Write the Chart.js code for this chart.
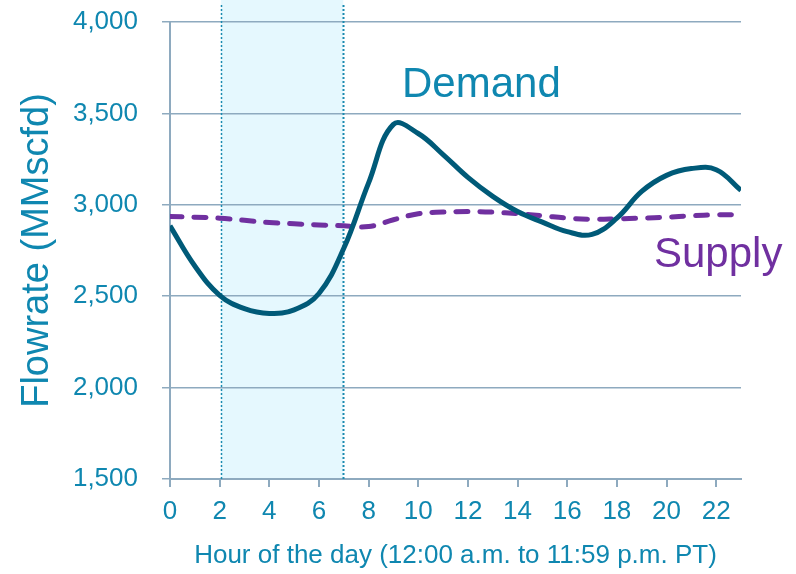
<!DOCTYPE html>
<html>
<head>
<meta charset="utf-8">
<script src="https://cdn.jsdelivr.net/npm/chart.js@4"></script>
<style>
  body { margin: 0; background: #fff; }
</style>
</head>
<body>
<canvas id="myChart" width="796" height="574"></canvas>
<script>
  // hourly values (MMscfd)
  const hours = [0,1,2,3,4,5,6,7,8,9,10,11,12,13,14,15,16,17,18,19,20,21,22,23];
  const demand = [2885,2665,2505,2432,2406,2425,2515,2762,3120,3440,3390,3275,3150,3046,2963,2905,2853,2838,2927,3073,3161,3198,3192,3079];
  const supply = [2936,2932,2927,2915,2903,2896,2890,2885,2881,2918,2951,2960,2963,2960,2951,2940,2927,2921,2923,2927,2932,2940,2945,2945];
  const peakWindow = [2.05, 6.98];

  const teal = '#0f87b0';
  const gridColor = '#8eaabf';
  const fontFamily = "'Liberation Sans', Arial, sans-serif";

  const toPoints = (ys) => ys.map((y, i) => ({x: hours[i], y: y}));

  const shading = {
    id: 'shading',
    beforeDraw: (chart) => {
      const ctx = chart.ctx;
      const x = chart.scales.x;
      const x1 = x.getPixelForValue(peakWindow[0]);
      const x2 = x.getPixelForValue(peakWindow[1]);
      ctx.save();
      ctx.fillStyle = '#e5f8fe';
      ctx.fillRect(x1, 0, x2 - x1, chart.chartArea.bottom);
      ctx.restore();
    },
    beforeDatasetsDraw: (chart) => {
      const ctx = chart.ctx;
      const x = chart.scales.x;
      ctx.save();
      ctx.strokeStyle = '#1a8ab0';
      ctx.setLineDash([2, 2]);
      peakWindow.forEach((v, i) => {
        const px = Math.round(x.getPixelForValue(v)) + 0.5;
        ctx.lineWidth = i === 0 ? 1.5 : 2;
        ctx.beginPath();
        ctx.moveTo(px, 5);
        ctx.lineTo(px, chart.chartArea.bottom);
        ctx.stroke();
      });
      ctx.restore();
    },
    afterDatasetsDraw: (chart) => {
      const ctx = chart.ctx;
      ctx.save();
      ctx.font = '42px ' + fontFamily;
      ctx.textBaseline = 'alphabetic';
      ctx.fillStyle = teal;
      ctx.fillText('Demand', 402, 97);
      ctx.fillStyle = '#7030a0';
      ctx.fillText('Supply', 654, 267);
      ctx.restore();
    }
  };

  let myChart = new Chart(document.getElementById('myChart'), {
    type: 'line',
    data: {
      datasets: [{
        label: 'Demand',
        data: toPoints(demand),
        borderColor: '#005a78',
        borderWidth: 5,
        pointRadius: 0,
        tension: 0.4,
        fill: false
      }, {
        label: 'Supply',
        data: toPoints(supply),
        borderColor: '#7030a0',
        borderWidth: 5,
        borderDash: [12, 12],
        borderCapStyle: 'round',
        pointRadius: 0,
        tension: 0.4,
        fill: false
      }]
    },
    plugins: [shading],
    options: {
      responsive: false,
      animation: false,
      layout: {
        padding: {top: 22, right: 55, left: 0, bottom: 0}
      },
      plugins: {
        legend: {display: false},
        tooltip: {enabled: false}
      },
      scales: {
        x: {
          type: 'linear',
          min: 0,
          max: 23,
          afterFit: (scale) => {
            scale.height = 95;
            scale.paddingLeft = 0;
            scale.paddingRight = 0;
          },
          grid: {
            drawOnChartArea: false,
            drawTicks: true,
            tickLength: 8,
            color: gridColor,
            lineWidth: 2
          },
          border: {display: true, color: gridColor, width: 2},
          ticks: {
            stepSize: 2,
            includeBounds: false,
            autoSkip: false,
            maxRotation: 0,
            padding: 9,
            color: teal,
            font: {family: fontFamily, size: 26}
          },
          title: {
            display: true,
            text: 'Hour of the day (12:00 a.m. to 11:59 p.m. PT)',
            color: teal,
            font: {family: fontFamily, size: 26},
            padding: {top: 0, bottom: 3}
          }
        },
        y: {
          min: 1500,
          max: 4000,
          afterFit: (scale) => {
            scale.width = 170;
            scale.paddingTop = 0;
            scale.paddingBottom = 0;
          },
          grid: {
            drawTicks: true,
            tickLength: 8,
            color: gridColor,
            lineWidth: 1.5
          },
          border: {display: true, color: gridColor, width: 2},
          ticks: {
            stepSize: 500,
            padding: 24,
            color: teal,
            font: {family: fontFamily, size: 26},
            callback: (v) => v.toLocaleString('en-US')
          },
          title: {
            display: true,
            text: 'Flowrate (MMscfd)',
            color: teal,
            font: {family: fontFamily, size: 38},
            padding: {top: 15, bottom: 0}
          }
        }
      }
    }
  })
</script>
</body>
</html>
